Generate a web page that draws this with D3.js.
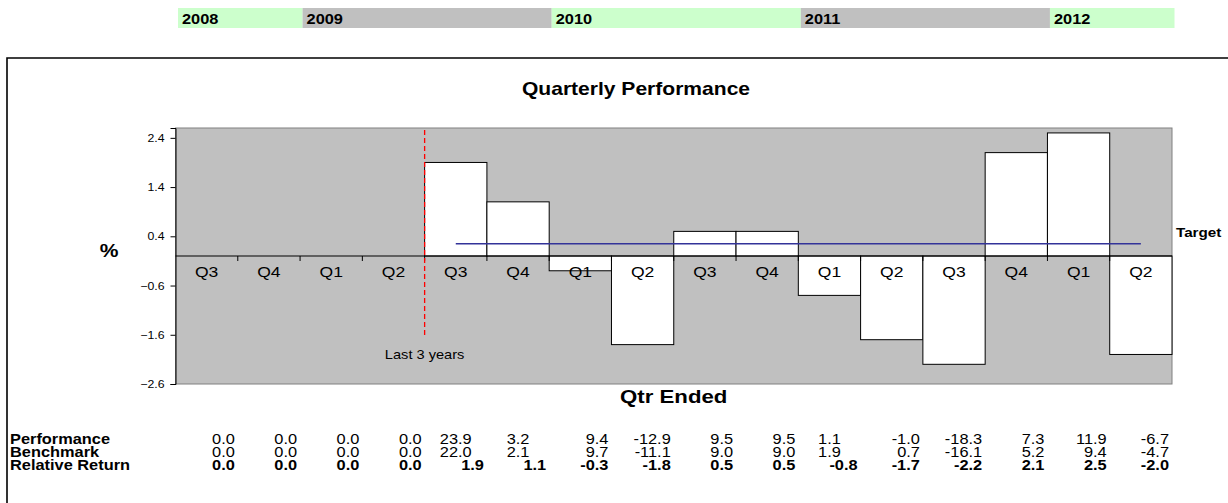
<!DOCTYPE html>
<html>
<head>
<meta charset="utf-8">
<script src="https://cdn.jsdelivr.net/npm/d3@7"></script>
<style>
  html, body { margin: 0; padding: 0; background: #fff; }
  svg { display: block; font-family: Arial, "Liberation Sans", sans-serif; }
</style>
</head>
<body>
<svg id="chart" width="1228" height="503"></svg>
<script>
// ---------- data ----------
const quarters = ["Q3","Q4","Q1","Q2","Q3","Q4","Q1","Q2","Q3","Q4","Q1","Q2","Q3","Q4","Q1","Q2"];
const quarterYears = ["2008","2008","2009","2009","2009","2009","2010","2010","2010","2010","2011","2011","2011","2011","2012","2012"];
const years = ["2008","2009","2010","2011","2012"];
const yearColors = ["#CCFFCC","#C0C0C0","#CCFFCC","#C0C0C0","#CCFFCC"];
const performance = [0.0,0.0,0.0,0.0,23.9,3.2,9.4,-12.9,9.5,9.5,1.1,-1.0,-18.3,7.3,11.9,-6.7];
const benchmark   = [0.0,0.0,0.0,0.0,22.0,2.1,9.7,-11.1,9.0,9.0,1.9,0.7,-16.1,5.2,9.4,-4.7];
const relative    = [0.0,0.0,0.0,0.0,1.9,1.1,-0.3,-1.8,0.5,0.5,-0.8,-1.7,-2.2,2.1,2.5,-2.0];
const targetValue = 0.25;
const targetStart = 4;          // first quarter of "Last 3 years"
const yTicks = [-2.6,-1.6,-0.6,0.4,1.4,2.4];
const rowLabels = ["Performance","Benchmark","Relative Return"];

// ---------- layout ----------
const SX = 1.17;   // horizontal stretch of the reference text
const centeredCols = [4, 5, 10];   // table cells (upper two rows) drawn centred in the reference
const svg = d3.select("#chart");
const plot = {left: 175.5, right: 1172, top: 128, bottom: 384};

const x = d3.scaleBand().domain(d3.range(quarters.length)).range([plot.left, plot.right]).padding(0);
const y = d3.scaleLinear().domain([-2.6, 2.6]).range([plot.bottom, plot.top]);
const bw = x.bandwidth();
const tr = (px, py) => `translate(${px},${py}) scale(${SX},1)`;
function label(g, px, py, str, size, weight, anchor) {
  return g.append("text").attr("transform", tr(px, py)).attr("text-anchor", anchor || "start")
    .attr("font-size", size).attr("font-weight", weight || "normal").attr("fill", "#000").text(str);
}

// ---------- year band ----------
const yearSpans = years.map((yr, i) => {
  const idx = quarterYears.map((q, j) => q === yr ? j : -1).filter(j => j >= 0);
  return {yr, color: yearColors[i], x0: x(idx[0]) + 2.5, x1: x(idx[idx.length-1]) + bw + 2.5};
});
const yb = svg.append("g");
yb.selectAll("rect").data(yearSpans).join("rect")
  .attr("x", d => d.x0).attr("y", 8).attr("width", d => d.x1 - d.x0).attr("height", 20)
  .attr("fill", d => d.color);
yb.selectAll("text").data(yearSpans).join("text")
  .attr("transform", d => tr(d.x0 + 4, 24))
  .attr("font-size", 14).attr("font-weight", "bold").attr("fill", "#000")
  .text(d => d.yr);

// ---------- frame ----------
svg.append("path").attr("d", "M7,503V58H1228").attr("fill", "none").attr("stroke", "#000").attr("stroke-width", 1.6);

// ---------- title ----------
label(svg, 636, 95, "Quarterly Performance", 18, "bold", "middle");

// ---------- plot background ----------
svg.append("rect").attr("x", plot.left).attr("y", plot.top)
  .attr("width", plot.right - plot.left).attr("height", plot.bottom - plot.top)
  .attr("fill", "#C0C0C0").attr("stroke", "#808080").attr("stroke-width", 1);

// ---------- bars ----------
svg.append("g").selectAll("rect").data(relative.map((v, i) => ({v, i})).filter(d => d.v !== 0)).join("rect")
  .attr("x", d => x(d.i)).attr("width", bw)
  .attr("y", d => y(Math.max(0, d.v))).attr("height", d => Math.abs(y(d.v) - y(0)))
  .attr("fill", "#fff").attr("stroke", "#000").attr("stroke-width", 1);

// ---------- zero line with category ticks ----------
svg.append("line").attr("x1", plot.left).attr("x2", plot.right).attr("y1", y(0)).attr("y2", y(0))
  .attr("stroke", "#000").attr("stroke-width", 1);
svg.append("g").selectAll("line").data(d3.range(1, quarters.length)).join("line")
  .attr("x1", d => x(d)).attr("x2", d => x(d)).attr("y1", y(0)).attr("y2", y(0) + 5)
  .attr("stroke", "#000").attr("stroke-width", 1);

// category labels
svg.append("g").selectAll("text").data(quarters).join("text")
  .attr("transform", (d, i) => tr(x(i) + bw / 2, y(0) + 21))
  .attr("text-anchor", "middle").attr("font-size", 15).text(d => d);

// ---------- y axis ----------
const yAxis = svg.append("g").attr("transform", `translate(${plot.left},0)`)
  .call(d3.axisLeft(y).tickValues(yTicks).tickFormat(d3.format(".1f")).tickSize(5).tickPadding(6));
yAxis.select(".domain").attr("stroke", "#000");
yAxis.selectAll(".tick line").attr("stroke", "#000");
yAxis.selectAll(".tick text").attr("font-size", 10.5).attr("font-family", "Arial, 'Liberation Sans', sans-serif")
  .attr("fill", "#000").attr("x", null).attr("dy", null)
  .attr("transform", tr(-11, 3.6));

label(svg, 109, 257, "%", 18, "bold", "middle");

// ---------- target line ----------
svg.append("line")
  .attr("x1", x(targetStart) + bw / 2).attr("x2", x(quarters.length - 1) + bw / 2)
  .attr("y1", y(targetValue)).attr("y2", y(targetValue))
  .attr("stroke", "#333399").attr("stroke-width", 1.5);
label(svg, plot.right + 4, y(targetValue) - 7, "Target", 13, "bold");

// ---------- last 3 years marker ----------
svg.append("line").attr("x1", x(targetStart)).attr("x2", x(targetStart))
  .attr("y1", 130).attr("y2", 338)
  .attr("stroke", "#FF0000").attr("stroke-width", 1.3).attr("stroke-dasharray", "5,3");
label(svg, x(targetStart), 358.5, "Last 3 years", 12.5, "normal", "middle");

// ---------- x axis title ----------
label(svg, (plot.left + plot.right) / 2, 402.5, "Qtr Ended", 19, "bold", "middle");

// ---------- table ----------
const rows = [performance, benchmark, relative];
const rowY = [443.5, 456.5, 469.5];
const tbl = svg.append("g");
rows.forEach((vals, r) => {
  label(tbl, 10, rowY[r], rowLabels[r], 14, "bold");
  const centred = i => r < 2 && centeredCols.includes(i);
  tbl.append("g").selectAll("text").data(vals).join("text")
    .attr("transform", (d, i) => tr(centred(i) ? x(i) + bw / 2 : x(i) + bw - 3, rowY[r]))
    .attr("text-anchor", (d, i) => centred(i) ? "middle" : "end").attr("font-size", 14)
    .attr("font-weight", r === 2 ? "bold" : "normal")
    .text(d => d3.format(".1f")(d).replace("−", "-"));
});
</script>
</body>
</html>
